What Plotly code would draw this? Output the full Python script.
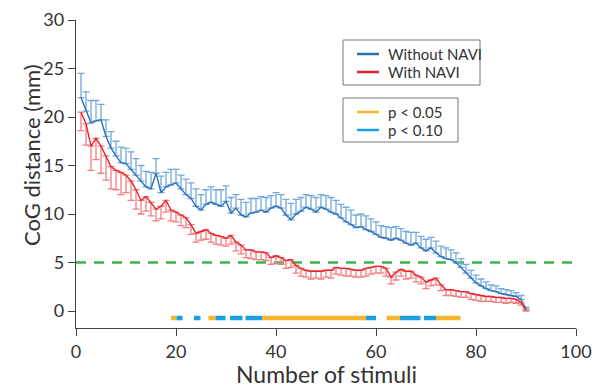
import plotly.graph_objects as go

stimuli = list(range(1, 91))

without_navi = [22.0, 20.6, 19.4, 19.6, 19.7, 18.0, 16.8, 16.0, 15.3, 15.2,
                14.6, 14.0, 13.4, 12.8, 12.6, 14.2, 12.2, 12.8, 13.0, 13.2,
                12.6, 12.0, 11.6, 10.8, 10.4, 11.0, 11.2, 11.0, 10.8, 11.3,
                10.1, 10.6, 9.9, 9.7, 10.1, 10.2, 10.4, 10.2, 10.6, 10.8,
                10.6, 9.9, 9.4, 10.0, 10.3, 10.7, 10.5, 10.2, 10.7, 10.5,
                10.2, 10.0, 9.6, 9.2, 8.9, 8.6, 8.7, 8.4, 8.2, 7.9,
                7.6, 7.5, 7.3, 7.5, 7.3, 7.0, 6.8, 7.0, 6.5, 6.2,
                6.5, 6.0, 5.6, 5.4, 5.3, 5.0, 4.5, 3.9, 3.4, 2.9,
                2.6, 2.3, 2.1, 2.0, 1.8, 1.7, 1.6, 1.5, 1.2, 0.2]

without_err = [2.5, 2.0, 2.3, 2.1, 1.6, 1.7, 1.7, 1.5, 1.6, 1.6,
               1.8, 1.7, 1.6, 1.6, 1.7, 1.5, 1.7, 1.5, 1.6, 1.4,
               1.4, 1.6, 1.6, 1.8, 1.6, 1.5, 1.6, 1.5, 1.7, 1.6,
               1.6, 1.4, 1.6, 1.5, 1.5, 1.4, 1.4, 1.5, 1.3, 1.4,
               1.4, 1.6, 1.7, 1.5, 1.4, 1.3, 1.4, 1.5, 1.3, 1.4,
               1.5, 1.4, 1.4, 1.5, 1.5, 1.3, 1.3, 1.4, 1.3, 1.3,
               1.2, 1.2, 1.3, 1.2, 1.2, 1.2, 1.3, 1.1, 1.2, 1.2,
               1.1, 1.2, 1.1, 1.1, 1.0, 1.0, 0.9, 0.9, 0.8, 0.8,
               0.7, 0.7, 0.6, 0.6, 0.5, 0.5, 0.5, 0.4, 0.4, 0.2]

with_navi = [20.5, 19.3, 17.0, 17.8, 17.0, 16.0, 14.9, 14.5, 14.3, 14.0,
             13.4, 12.5, 11.4, 11.8, 11.2, 10.5, 10.8, 11.4, 10.4, 10.2,
             9.9, 9.6, 8.9, 8.0, 8.2, 8.4, 8.0, 7.8, 7.7, 7.5,
             7.8, 7.1, 6.8, 6.3, 6.3, 6.1, 6.1, 6.0, 5.5, 5.7,
             5.5, 5.2, 5.3, 4.7, 4.4, 4.2, 4.1, 4.1, 4.1, 4.2,
             4.2, 4.5, 4.4, 4.4, 4.3, 4.2, 4.2, 4.4, 4.5, 4.6,
             4.6, 4.4, 3.5, 4.0, 4.3, 4.1, 4.1, 3.7, 3.5, 3.0,
             3.2, 3.4, 2.7, 2.2, 2.2, 2.1, 2.0, 2.0, 1.8, 1.7,
             1.6, 1.5, 1.5, 1.4, 1.4, 1.3, 1.3, 1.2, 0.9, 0.1]

with_err = [1.9, 2.2, 2.5, 2.2, 2.8, 2.5, 2.3, 2.0, 2.3, 1.8,
            2.0, 2.0, 1.4, 1.5, 1.4, 1.2, 1.3, 1.2, 1.1, 1.0,
            1.1, 1.0, 1.0, 0.9, 0.9, 1.0, 0.9, 0.9, 0.9, 0.8,
            0.9, 0.9, 0.9, 0.8, 0.9, 0.8, 0.8, 0.8, 0.7, 0.8,
            0.7, 0.8, 0.8, 0.8, 0.8, 0.7, 0.8, 0.7, 0.8, 0.7,
            0.8, 0.7, 0.7, 0.8, 0.7, 0.7, 0.7, 0.8, 0.7, 0.7,
            0.7, 0.8, 0.7, 0.8, 0.7, 0.8, 0.7, 0.7, 0.7, 0.7,
            0.6, 0.7, 0.6, 0.6, 0.6, 0.6, 0.6, 0.6, 0.6, 0.6,
            0.6, 0.5, 0.5, 0.5, 0.5, 0.5, 0.4, 0.4, 0.3, 0.1]

# significance intervals (start, end) in stimulus units
sig_p05 = [(19.0, 20.1), (26.5, 27.9), (37.2, 58.0), (62.1, 64.8), (72.0, 76.9)]
sig_p10 = [(20.1, 21.3), (23.6, 24.9), (27.9, 29.9), (30.8, 33.3), (33.9, 37.2),
           (58.0, 60.0), (64.8, 68.9), (69.6, 72.0)]
sig_level = -0.72
threshold = 5

x_ticks = [0, 20, 40, 60, 80, 100]
y_ticks = [0, 5, 10, 15, 20, 25, 30]

BLUE = "#2a70b8"
BLUE_ERR = "#72a8dc"
RED = "#e8232b"
RED_ERR = "#f27d80"
ORANGE = "#f6b52c"
LBLUE = "#1aa0e2"
GREEN = "#3bb54a"
AX = "#444444"
TXT = "#333333"
FONT = "Lato"


def seg_xy(intervals, level):
    xs, ys = [], []
    for a, b in intervals:
        xs += [a, b, None]
        ys += [level, level, None]
    return xs, ys


fig = go.Figure()

fig.add_trace(go.Scatter(x=[0, 100], y=[threshold, threshold], mode="lines",
                         line=dict(color=GREEN, width=2.5, dash="10px,8px"),
                         hoverinfo="skip"))

fig.add_trace(go.Scatter(
    x=stimuli, y=without_navi, mode="lines",
    line=dict(color=BLUE, width=1.4),
    error_y=dict(type="data", symmetric=False, array=without_err,
                 arrayminus=[0] * len(without_err),
                 color=BLUE_ERR, thickness=1.3, width=3.5)))

fig.add_trace(go.Scatter(
    x=stimuli, y=with_navi, mode="lines",
    line=dict(color=RED, width=1.4),
    error_y=dict(type="data", symmetric=False, array=[0] * len(with_err),
                 arrayminus=with_err,
                 color=RED_ERR, thickness=1.3, width=3.5)))

sx, sy = seg_xy(sig_p05, sig_level)
fig.add_trace(go.Scatter(x=sx, y=sy, mode="lines",
                         line=dict(color=ORANGE, width=4.5), hoverinfo="skip"))
sx, sy = seg_xy(sig_p10, sig_level)
fig.add_trace(go.Scatter(x=sx, y=sy, mode="lines",
                         line=dict(color=LBLUE, width=4.5), hoverinfo="skip"))

# plot-area pixel frame used to place the legend boxes and titles
L, R, T, B = 76, 576, 20, 328


def px(xp):
    return (xp - L) / (R - L)


def py(yp):
    return (B - yp) / (B - T)


shapes = []
annotations = []
boxes = [(343, 40, 480, 85), (343, 98, 458, 142)]
for x0, y0, x1, y1 in boxes:
    shapes.append(dict(type="rect", xref="paper", yref="paper",
                       x0=px(x0), x1=px(x1), y0=py(y1), y1=py(y0),
                       line=dict(color="#777777", width=1), fillcolor="white", layer="above"))

legend_items = [("Without NAVI", BLUE, 54), ("With NAVI", RED, 72),
                ("p < 0.05", ORANGE, 112), ("p < 0.10", LBLUE, 130)]
for label, col, yy in legend_items:
    shapes.append(dict(type="line", xref="paper", yref="paper",
                       x0=px(357), x1=px(379), y0=py(yy), y1=py(yy),
                       line=dict(color=col, width=2.5), layer="above"))
    annotations.append(dict(xref="paper", yref="paper", x=px(386), y=py(yy),
                            text=label, showarrow=False, xanchor="left", yanchor="middle",
                            font=dict(family=FONT, size=15, color=TXT)))

annotations.append(dict(xref="paper", yref="paper", x=px(31), y=py(155),
                        text="CoG distance (mm)", textangle=-90, showarrow=False,
                        xanchor="center", yanchor="middle",
                        font=dict(family=FONT, size=22, color=TXT)))
annotations.append(dict(xref="paper", yref="paper", x=px(326), y=py(374),
                        text="Number of stimuli", showarrow=False,
                        xanchor="center", yanchor="middle",
                        font=dict(family=FONT, size=23, color=TXT)))

fig.update_layout(
    width=597, height=388,
    margin=dict(l=L, r=597 - R, t=T, b=388 - B, autoexpand=False),
    paper_bgcolor="white", plot_bgcolor="white",
    showlegend=False,
    shapes=shapes, annotations=annotations,
    font=dict(family=FONT, color=TXT),
    xaxis=dict(range=[0, 100], tickvals=x_ticks, showline=True, linecolor=AX, linewidth=1.3,
               ticks="outside", ticklen=7, tickcolor=AX, tickwidth=1.3,
               showgrid=False, zeroline=False, automargin=False,
               tickfont=dict(family=FONT, size=18, color=TXT)),
    yaxis=dict(range=[-1.75, 30], tickvals=y_ticks, showline=True, linecolor=AX, linewidth=1.3,
               ticks="outside", ticklen=7, tickcolor=AX, tickwidth=1.3,
               showgrid=False, zeroline=False, automargin=False,
               tickfont=dict(family=FONT, size=18, color=TXT)),
)

fig.write_html("out.html")
